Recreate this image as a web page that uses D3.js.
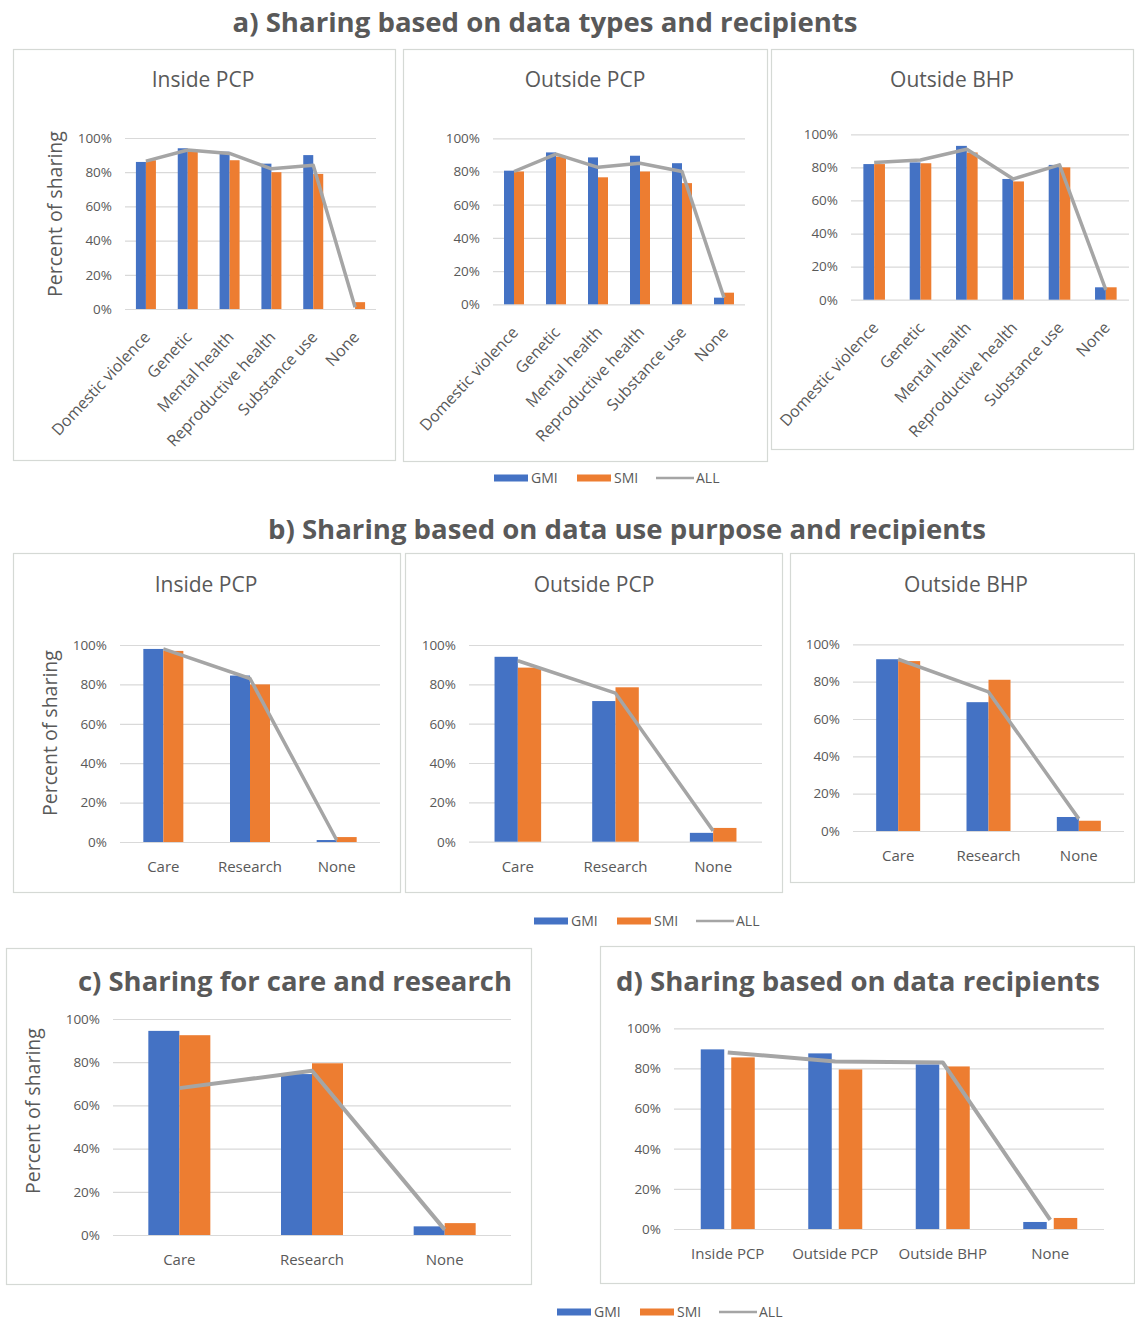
<!DOCTYPE html>
<html>
<head>
<meta charset="utf-8">
<script src="https://cdn.jsdelivr.net/npm/d3@7"></script>
<style>
  body { margin: 0; background: #fff; }
  svg { font-family: "Open Sans", "Noto Sans", sans-serif; }
</style>
</head>
<body>
<svg id="chart" width="1135" height="1324"></svg>
<script>
// categories
const typeCats = ["Domestic violence", "Genetic", "Mental health", "Reproductive health", "Substance use", "None"];
const purposeCats = ["Care", "Research", "None"];
const recipientCats = ["Inside PCP", "Outside PCP", "Outside BHP", "None"];
const yTicks = [0, 20, 40, 60, 80, 100];
const seriesNames = ["GMI", "SMI", "ALL"];

// a) data types, by recipient
const aInsideGMI = [86, 94, 92, 85, 90, 0];
const aInsideSMI = [87, 93, 87, 80, 79, 4];
const aInsideALL = [86.5, 93, 91, 82, 84, 1];
const aOutPcpGMI = [80.5, 91.5, 88.5, 89.5, 85, 4];
const aOutPcpSMI = [80, 89, 76.5, 80, 73, 7];
const aOutPcpALL = [80, 90.5, 82.5, 85, 80, 4];
const aOutBhpGMI = [82, 83, 93, 73, 81.5, 7.5];
const aOutBhpSMI = [82, 82.5, 89, 71.5, 80, 7.5];
const aOutBhpALL = [83, 84.5, 91, 73, 81.5, 6];

// b) use purpose, by recipient
const bInsideGMI = [98, 84.5, 1];
const bInsideSMI = [97, 80, 2.5];
const bInsideALL = [98, 83, 1];
const bOutPcpGMI = [94, 71.5, 4.5];
const bOutPcpSMI = [88.5, 78.5, 7];
const bOutPcpALL = [92, 75.5, 5.5];
const bOutBhpGMI = [92, 69, 7.5];
const bOutBhpSMI = [91, 81, 5.5];
const bOutBhpALL = [92, 74.5, 6.5];

// c) care and research
const cGMI = [94.5, 74.5, 4];
const cSMI = [92.5, 79.5, 5.5];
const cALL = [68, 76, 2.5];

// d) recipients
const dGMI = [89.5, 87.5, 82, 3.5];
const dSMI = [85.5, 79.5, 81, 5.5];
const dALL = [88, 83.5, 83, 4.5];

const colors = { GMI: "#4472C4", SMI: "#ED7D31", ALL: "#A5A5A5" };
const textCol = "#595959";
const gridCol = "#d9d9d9";

const svg = d3.select("#chart");
svg.append("rect").attr("width", 1135).attr("height", 1324).attr("fill", "#fff");

function drawPanel(p) {
    const g = svg.append("g");
    if (p.box) {
        g.append("rect")
            .attr("x", p.box[0] + 0.5).attr("y", p.box[1] + 0.5)
            .attr("width", p.box[2]).attr("height", p.box[3])
            .attr("fill", "none").attr("stroke", "#d5d9d5").attr("stroke-width", 1.2);
    }
    if (p.title) {
        g.append("text")
            .attr("x", p.title[0]).attr("y", p.title[1])
            .attr("text-anchor", "middle").attr("dy", "0.35em")
            .attr("font-size", 21).attr("fill", textCol)
            .text(p.title[2]);
    }

    const x = d3.scaleBand().domain(p.cats).range(p.xr);
    const y = d3.scaleLinear().domain([0, 100]).range(p.yr);

    // gridlines + y tick labels
    const axis = g.append("g")
        .attr("transform", `translate(${p.xr[0]},0)`)
        .call(d3.axisLeft(y).tickValues(yTicks).tickFormat(d => d + "%")
            .tickSize(-(p.xr[1] - p.xr[0])).tickPadding(13));
    axis.select(".domain").remove();
    axis.selectAll("line").attr("stroke", gridCol).attr("stroke-width", 1.2);
    axis.selectAll("text").attr("fill", textCol).attr("font-size", p.tickSize || 13.5)
        .attr("font-family", "Open Sans");

    // bars
    const inner = d3.scaleBand().domain(["GMI", "SMI"])
        .range([0, 2 * p.barW + p.gap]).paddingInner(p.gap / (p.barW + p.gap));
    const total = 2 * p.barW + p.gap;
    ["GMI", "SMI"].forEach(s => {
        g.append("g").selectAll("rect")
            .data(p.cats.map((c, i) => ({ c: c, v: p.data[s][i] })))
            .join("rect")
            .attr("x", d => x(d.c) + x.bandwidth() / 2 - total / 2 + inner(s))
            .attr("y", d => y(d.v))
            .attr("width", inner.bandwidth())
            .attr("height", d => y(0) - y(d.v))
            .attr("fill", colors[s]);
    });

    // ALL line
    const line = d3.line()
        .x((d, i) => x(p.cats[i]) + x.bandwidth() / 2)
        .y(d => y(d));
    g.append("path")
        .datum(p.data.ALL)
        .attr("d", line)
        .attr("fill", "none")
        .attr("stroke", colors.ALL)
        .attr("stroke-width", p.lineW || 3.5)
        .attr("stroke-linejoin", "round");

    // x labels
    const labels = g.append("g").selectAll("text")
        .data(p.cats)
        .join("text")
        .attr("fill", textCol)
        .attr("font-size", p.xSize || 15)
        .text(d => d);
    if (p.rotate) {
        labels.attr("text-anchor", "end")
            .attr("dy", "0.35em")
            .attr("transform", d => `translate(${x(d) + x.bandwidth() / 2 + 1},${y(0) + 25}) rotate(-47)`);
    } else {
        labels.attr("text-anchor", "middle")
            .attr("dy", "0.35em")
            .attr("x", d => x(d) + x.bandwidth() / 2)
            .attr("y", y(0) + 25);
    }

    if (p.yTitle) {
        g.append("text")
            .attr("transform", `translate(${p.yTitle[0]},${p.yTitle[1]}) rotate(-90)`)
            .attr("text-anchor", "middle").attr("dy", "0.35em")
            .attr("font-size", 19.5).attr("fill", textCol)
            .text("Percent of sharing");
    }
}

function bigTitle(txt, cx, cy, len, size) {
    svg.append("text")
        .attr("x", cx).attr("y", cy)
        .attr("text-anchor", "middle").attr("dy", "0.35em")
        .attr("font-size", size).attr("font-weight", "bold")
        .attr("fill", textCol)
        .attr("textLength", len).attr("lengthAdjust", "spacingAndGlyphs")
        .text(txt);
}

function legend(x0, y0) {
    const g = svg.append("g").attr("transform", `translate(${x0},${y0})`);
    const items = [
        { name: "GMI", off: 0, type: "rect" },
        { name: "SMI", off: 83, type: "rect" },
        { name: "ALL", off: 162, type: "line" }
    ];
    items.forEach(it => {
        if (it.type === "rect") {
            g.append("rect").attr("x", it.off).attr("y", -3.5).attr("width", 34).attr("height", 7)
                .attr("fill", colors[it.name]);
        } else {
            g.append("line").attr("x1", it.off).attr("x2", it.off + 38).attr("y1", 0).attr("y2", 0)
                .attr("stroke", colors.ALL).attr("stroke-width", 2.5);
        }
        g.append("text").attr("x", it.off + (it.type === "rect" ? 37 : 40)).attr("y", 0)
            .attr("dy", "0.35em").attr("font-size", 14).attr("fill", textCol).text(it.name);
    });
}

// ---- a)
bigTitle("a) Sharing based on data types and recipients", 545, 22, 625, 27.5);
drawPanel({ box: [13, 49, 382, 411], title: [203, 80, "Inside PCP"], cats: typeCats,
    xr: [125, 376], yr: [309, 138], barW: 10, gap: 0, rotate: true, xSize: 16, yTitle: [55, 214], lineW: 3.5,
    data: { GMI: aInsideGMI, SMI: aInsideSMI, ALL: aInsideALL } });
drawPanel({ box: [403, 49, 364, 412], title: [585, 80, "Outside PCP"], cats: typeCats,
    xr: [493, 745], yr: [304.3, 138.3], barW: 10, gap: 0, rotate: true, xSize: 16, lineW: 3.5,
    data: { GMI: aOutPcpGMI, SMI: aOutPcpSMI, ALL: aOutPcpALL } });
drawPanel({ box: [771, 49, 362, 400], title: [952, 80, "Outside BHP"], cats: typeCats,
    xr: [851, 1129], yr: [299.7, 134.3], barW: 10.8, gap: 0, rotate: true, xSize: 16, lineW: 3.5,
    data: { GMI: aOutBhpGMI, SMI: aOutBhpSMI, ALL: aOutBhpALL } });
legend(494, 478);

// ---- b)
bigTitle("b) Sharing based on data use purpose and recipients", 627, 529, 718, 27.5);
drawPanel({ box: [13, 553, 387, 339], title: [206, 585, "Inside PCP"], cats: purposeCats,
    xr: [120, 380], yr: [842, 645], barW: 20, gap: 0, yTitle: [50, 733],
    data: { GMI: bInsideGMI, SMI: bInsideSMI, ALL: bInsideALL } });
drawPanel({ box: [405, 553, 377, 339], title: [594, 585, "Outside PCP"], cats: purposeCats,
    xr: [469, 762], yr: [841.7, 645], barW: 23.3, gap: 0,
    data: { GMI: bOutPcpGMI, SMI: bOutPcpSMI, ALL: bOutPcpALL } });
drawPanel({ box: [790, 553, 344, 329], title: [966, 585, "Outside BHP"], cats: purposeCats,
    xr: [853, 1124], yr: [831, 644.3], barW: 22, gap: 0,
    data: { GMI: bOutBhpGMI, SMI: bOutBhpSMI, ALL: bOutBhpALL } });
legend(534, 921);

// ---- c)
drawPanel({ box: [6, 948, 525, 336], cats: purposeCats,
    xr: [113, 511], yr: [1235, 1019], barW: 31, gap: 0, yTitle: [33, 1111], lineW: 4,
    data: { GMI: cGMI, SMI: cSMI, ALL: cALL } });
bigTitle("c) Sharing for care and research", 295, 981, 434, 27.5);

// ---- d)
drawPanel({ box: [600, 946, 534, 337], cats: recipientCats,
    xr: [674, 1104], yr: [1229, 1028.3], barW: 23.5, gap: 7, lineW: 4,
    data: { GMI: dGMI, SMI: dSMI, ALL: dALL } });
bigTitle("d) Sharing based on data recipients", 858, 981, 484, 27.5);
legend(557, 1312);
</script>
</body>
</html>
